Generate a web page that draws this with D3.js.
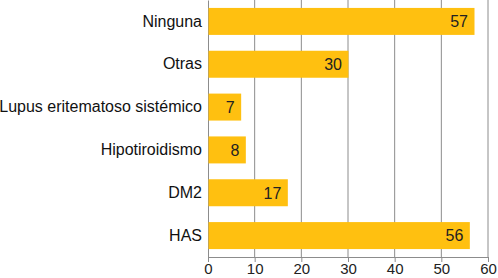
<!DOCTYPE html>
<html>
<head>
  <meta charset="utf-8">
  <script src="https://cdn.jsdelivr.net/npm/d3@7"></script>
  <style>
    body { margin: 0; background: #fff; }
    text { font-family: "Liberation Sans", Arial, sans-serif; }
  </style>
</head>
<body>
  <svg width="498" height="278" id="mainsvg"></svg>
  <script>
    const categories = ['Ninguna', 'Otras', 'Lupus eritematoso sistémico', 'Hipotiroidismo', 'DM2', 'HAS'];
    const values = [57, 30, 7, 8, 17, 56];
    const xTicks = [0, 10, 20, 30, 40, 50, 60];

    const svg = d3.select('#mainsvg');
    const margin = { top: 0, right: 10, bottom: 21, left: 208 };
    const innerWidth = +svg.attr('width') - margin.left - margin.right;
    const innerHeight = +svg.attr('height') - margin.top - margin.bottom;
    const g = svg.append('g').attr('transform', `translate(${margin.left}, ${margin.top})`);

    const data = categories.map((c, i) => ({ cat: c, val: values[i] }));

    const xScale = d3.scaleLinear().domain([0, 60]).range([0, innerWidth]);
    const yScale = d3.scaleBand().domain(categories).range([0, innerHeight])
      .paddingInner(0.37).paddingOuter(0.185);

    // vertical gridlines
    g.selectAll('.grid').data(xTicks.slice(1)).join('line').attr('class', 'grid')
      .attr('x1', d => xScale(d)).attr('x2', d => xScale(d))
      .attr('y1', 0).attr('y2', innerHeight)
      .attr('stroke', '#8c8c8c').attr('stroke-width', 1);

    // bottom axis
    const xAxis = g.append('g').attr('transform', `translate(0, ${innerHeight})`)
      .call(d3.axisBottom(xScale).tickValues(xTicks).tickSize(5).tickPadding(1));
    xAxis.select('.domain').attr('stroke', '#8c8c8c');
    xAxis.selectAll('.tick line').attr('stroke', '#8c8c8c');
    xAxis.selectAll('text').attr('font-size', 15).attr('fill', '#222');

    // left axis
    const yAxis = g.append('g').call(d3.axisLeft(yScale).tickSize(0).tickPadding(6));
    yAxis.select('.domain').attr('stroke', '#8c8c8c');
    yAxis.selectAll('text').attr('font-size', 16).attr('fill', '#111');

    g.selectAll('.bar').data(data).join('rect').attr('class', 'bar')
      .attr('x', xScale(0) + 0.5)
      .attr('y', d => yScale(d.cat))
      .attr('width', d => xScale(d.val) - xScale(0))
      .attr('height', yScale.bandwidth())
      .attr('fill', '#FFC010');

    g.selectAll('.lbl').data(data).join('text').attr('class', 'lbl')
      .attr('x', d => xScale(d.val) - 6)
      .attr('y', d => yScale(d.cat) + yScale.bandwidth() / 2)
      .attr('dy', '0.36em')
      .attr('text-anchor', 'end')
      .attr('font-size', 16)
      .attr('fill', '#222')
      .text(d => d.val);
  </script>
</body>
</html>
